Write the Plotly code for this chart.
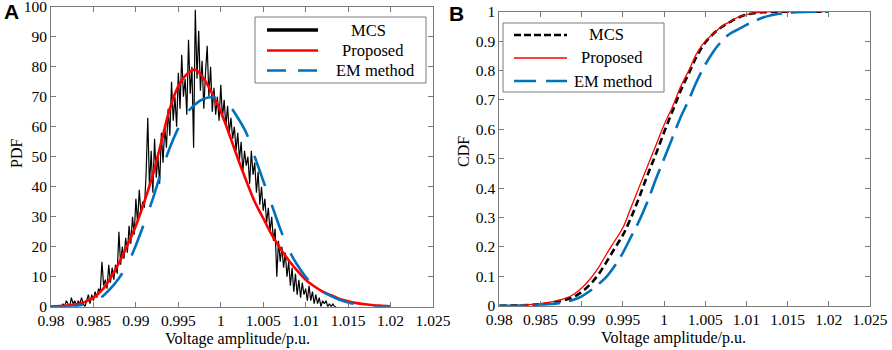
import plotly.graph_objects as go

# ---------------- data ----------------
# Panel A: MCS histogram-like PDF (bin start and step)
mcs_x_start = 0.9812
mcs_x_step = 0.0002
mcs_pdf = [
    0, 1, 0, 2, 1, 0, 3, 1, 2, 0,
    2, 1, 3, 1, 0, 2, 4, 1, 4, 2,
    5, 3, 6, 5, 15, 7, 9, 6, 14, 8,
    13, 9, 14, 11, 25, 14, 20, 16, 23, 18,
    27, 21, 30, 24, 36, 28, 39, 31, 35, 33,
    44, 63, 40, 52, 38, 56, 43, 50, 41, 58,
    48, 60, 53, 66, 57, 75, 62, 70, 60, 78,
    66, 84, 70, 76, 64, 89, 71, 80, 53, 99,
    76, 92, 72, 82, 66, 78, 87, 70, 80, 65,
    73, 64, 70, 62, 74, 63, 69, 60, 67, 58,
    63, 56, 60, 52, 58, 49, 55, 45, 52, 47,
    50, 41, 52, 44, 48, 38, 45, 34, 40, 32,
    36, 28, 33, 25, 30, 22, 26, 10, 22, 15,
    20, 13, 18, 10, 15, 7, 13, 5, 11, 4,
    9, 3, 8, 4, 6, 2, 7, 2, 5, 1,
    4, 1, 3, 0, 2, 1, 2, 0, 1, 0,
    1, 0, 0,
]
mcs_x = [round(mcs_x_start + i * mcs_x_step, 4) for i in range(len(mcs_pdf))]

curve_x = [0.980, 0.981, 0.982, 0.983, 0.984, 0.985, 0.986, 0.987, 0.988, 0.989,
           0.990, 0.991, 0.992, 0.993, 0.994, 0.995, 0.996, 0.997, 0.998, 0.999,
           1.000, 1.001, 1.002, 1.003, 1.004, 1.005, 1.006, 1.007, 1.008, 1.009,
           1.010, 1.011, 1.012, 1.013, 1.014, 1.015, 1.016, 1.017, 1.018, 1.019,
           1.020]
proposed_pdf = [0.1, 0.2, 0.4, 0.8, 1.6, 3.0, 5.5, 9.5, 14.5, 20.5,
                27, 35, 44, 55, 66, 73.5, 77.5, 79, 76, 71,
                65, 57.5, 49.5, 42, 35, 29.5, 24, 19.5, 15.5, 12,
                9, 6.8, 5, 3.8, 2.6, 1.8, 1.2, 0.8, 0.5, 0.3,
                0.1]
em_pdf = [0, 0, 0.1, 0.3, 0.8, 1.8, 3.3, 6, 9.5, 14,
          20.5, 28, 36, 45, 53, 59.5, 64.5, 67.5, 69.3, 69.8,
          69, 67, 63, 58, 50, 42, 34, 26, 19, 14,
          10, 7, 5, 3.5, 2.3, 1.4, 0.8, 0.4, 0.2, 0.1,
          0]

# Panel B: CDFs
cdf_x = [0.980, 0.982, 0.984, 0.985, 0.986, 0.987, 0.988, 0.989, 0.990, 0.991,
         0.992, 0.993, 0.994, 0.995, 0.996, 0.997, 0.998, 0.999, 1.000, 1.001,
         1.002, 1.003, 1.004, 1.005, 1.006, 1.007, 1.008, 1.009, 1.010, 1.011,
         1.012, 1.013, 1.014, 1.015, 1.016, 1.018, 1.020]
mcs_cdf = [0, 0.001, 0.003, 0.005, 0.008, 0.013, 0.02, 0.03, 0.047, 0.072,
           0.105, 0.148, 0.195, 0.24, 0.30, 0.37, 0.445, 0.515, 0.59, 0.66,
           0.73, 0.79, 0.85, 0.895, 0.925, 0.948, 0.965, 0.98, 0.99, 0.995,
           0.998, 0.999, 1.0, 1.0, 1.0, 1.0, 1.0]
proposed_cdf = [0, 0.001, 0.004, 0.007, 0.011, 0.017, 0.025, 0.038, 0.06, 0.09,
                0.128, 0.175, 0.22, 0.265, 0.335, 0.405, 0.475, 0.545, 0.615, 0.675,
                0.745, 0.80, 0.86, 0.90, 0.925, 0.95, 0.966, 0.982, 0.99, 0.996,
                0.999, 1.0, 1.0, 1.0, 1.0, 1.0, 1.0]
em_cdf = [0, 0, 0.001, 0.003, 0.005, 0.008, 0.013, 0.02, 0.032, 0.05,
          0.072, 0.098, 0.135, 0.18, 0.235, 0.29, 0.355, 0.43, 0.50, 0.57,
          0.64, 0.70, 0.765, 0.82, 0.865, 0.90, 0.925, 0.94, 0.955, 0.968,
          0.98, 0.988, 0.993, 0.996, 0.998, 1.0, 1.0]

series_names = ["MCS", "Proposed", "EM method"]
x_tickvals = [0.98, 0.985, 0.99, 0.995, 1.0, 1.005, 1.01, 1.015, 1.02, 1.025]
x_ticktext = ["0.98", "0.985", "0.99", "0.995", "1", "1.005", "1.01", "1.015", "1.02", "1.025"]
pdf_ticks = [0, 10, 20, 30, 40, 50, 60, 70, 80, 90, 100]
cdf_tickvals = [0, 0.1, 0.2, 0.3, 0.4, 0.5, 0.6, 0.7, 0.8, 0.9, 1.0]
cdf_ticktext = ["0", "0.1", "0.2", "0.3", "0.4", "0.5", "0.6", "0.7", "0.8", "0.9", "1"]

# ---------------- figure ----------------
SERIF = "Liberation Serif"
RED = "#ff0000"
BLUE = "#0072bd"
FRAME = "#7a7a7a"
W, H = 892, 350

# line styles (plot, legend sample)
styleA = [dict(color="black", width=1.2),
          dict(color=RED, width=2.6, shape="spline"),
          dict(color=BLUE, width=2.6, dash="32px,20px", shape="spline")]
legA_dash = [None, None, "19px,12px"]
legA_width = [3.5, 2.6, 2.6]
styleB = [dict(color="black", width=2.6, dash="7px,4px", shape="spline"),
          dict(color=RED, width=1.3, shape="spline"),
          dict(color=BLUE, width=2.6, dash="26px,9px", shape="spline")]
legB_dash = ["7px,3px", None, "22px,10px"]
legB_width = [2.6, 1.3, 2.6]

fig = go.Figure()
for name, y, st in zip(series_names, [mcs_pdf, proposed_pdf, em_pdf], styleA):
    xs = mcs_x if name == "MCS" else curve_x
    fig.add_trace(go.Scatter(x=xs, y=y, mode="lines", name=name, line=st,
                             xaxis="x", yaxis="y", showlegend=False))
for name, y, st in zip(series_names, [mcs_cdf, proposed_cdf, em_cdf], styleB):
    fig.add_trace(go.Scatter(x=cdf_x, y=y, mode="lines", name=name, line=st,
                             xaxis="x2", yaxis="y2", showlegend=False))

axis_common = dict(showline=True, linecolor=FRAME, linewidth=1, mirror="ticks",
                   ticks="inside", ticklen=5, tickcolor=FRAME, showgrid=False,
                   zeroline=False, automargin=False, ticklabeloverflow="allow",
                   tickfont=dict(family=SERIF, size=15.5, color="black"))
xa = dict(axis_common, range=[0.98, 1.025], tickvals=x_tickvals, ticktext=x_ticktext)

shapes = []
annotations = []


def px(x):
    return x / W


def py(y):
    return 1 - y / H


def text(t, x, y, size=16, angle=0, family=SERIF, xanchor="center"):
    annotations.append(dict(text=t, x=px(x), y=py(y), xref="paper", yref="paper",
                            xanchor=xanchor, yanchor="middle", showarrow=False,
                            textangle=angle, font=dict(family=family, size=size, color="black")))


def legend(box, line_x, rows, styles, dashes, widths):
    x0, y0, x1, y1 = box
    shapes.append(dict(type="rect", xref="paper", yref="paper", x0=px(x0), x1=px(x1),
                       y0=py(y1), y1=py(y0), line=dict(color=FRAME, width=1),
                       fillcolor="white", layer="above"))
    for (ly, tx), name, st, d, w in zip(rows, series_names, styles, dashes, widths):
        ln = dict(color=st["color"], width=w)
        if d:
            ln["dash"] = d
        shapes.append(dict(type="line", xref="paper", yref="paper",
                           x0=px(line_x[0]), x1=px(line_x[1]), y0=py(ly), y1=py(ly),
                           line=ln, layer="above"))
        text(name, tx, ly, size=16.5)


legend((255, 17, 426, 83), (267, 318), [(30, 368), (50.5, 373), (70.5, 375)],
       styleA, legA_dash, legA_width)
legend((503, 23, 664, 92), (514, 567), [(35, 606), (58, 612), (81, 613)],
       styleB, legB_dash, legB_width)

text("PDF", 17, 154, angle=-90)
text("CDF", 463, 152, angle=-90)
text("Voltage amplitude/p.u.", 237, 339)
text("Voltage amplitude/p.u.", 673, 338)
text("<b>A</b>", 2, 11, size=21, family="Liberation Sans", xanchor="left")
text("<b>B</b>", 447, 13, size=21, family="Liberation Sans", xanchor="left")

fig.update_layout(
    width=W, height=H,
    margin=dict(l=0, r=0, t=0, b=0),
    paper_bgcolor="white", plot_bgcolor="white",
    showlegend=False,
    xaxis=dict(xa, domain=[51 / W, 433 / W], anchor="y"),
    yaxis=dict(axis_common, domain=[1 - 306.7 / H, 1 - 6.7 / H], anchor="x",
               range=[0, 100], tickvals=pdf_ticks),
    xaxis2=dict(xa, domain=[499.3 / W, 870 / W], anchor="y2"),
    yaxis2=dict(axis_common, domain=[1 - 305.7 / H, 1 - 11.7 / H], anchor="x2",
                range=[0, 1], tickvals=cdf_tickvals, ticktext=cdf_ticktext),
    shapes=shapes,
    annotations=annotations,
)

fig.write_html("out.html", config={"displayModeBar": False},
               post_script="document.body.style.margin='0';document.body.style.overflow='hidden';")
